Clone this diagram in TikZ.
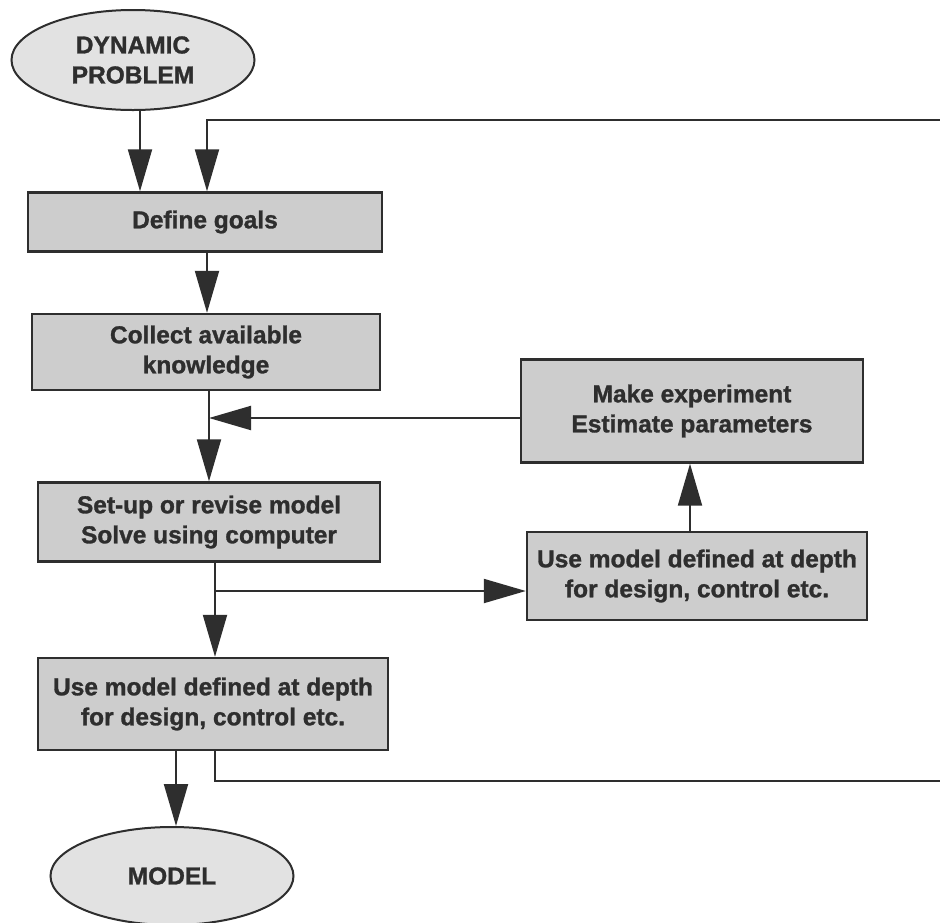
\documentclass[tikz,border=0pt]{standalone}
\usepackage{fontspec}
\setmainfont{Liberation Sans}[BoldFeatures={FakeBold=1.2}]
\usetikzlibrary{arrows.meta,shapes.geometric}
\definecolor{ink}{HTML}{2E2E2E}
\definecolor{boxfill}{HTML}{CDCDCD}
\definecolor{ellfill}{HTML}{E2E2E2}
\begin{document}
\begin{tikzpicture}[x=1pt,y=-1pt,
  lbl/.style={font=\fontsize{24.5}{30}\selectfont\bfseries, text=ink, align=center},
  stepbox/.style={lbl, draw=ink, line width=2.4pt, fill=boxfill, inner sep=0pt},
  term/.style={lbl, ellipse, draw=ink, line width=2pt, fill=ellfill, inner sep=0pt},
  conn/.style={draw=ink, line width=2pt},
  arr/.style={conn, -{Triangle[length=42pt,width=24pt]}}]
\useasboundingbox (0,0) rectangle (940,922);
\fill[white] (0,0) rectangle (940,922);
% nodes
\node[term, minimum width=243pt, minimum height=100pt] (dyn) at (133,60) {DYNAMIC\\PROBLEM};
\node[stepbox, minimum width=354pt, minimum height=59pt] (goals) at (205,222) {Define goals};
\node[stepbox, minimum width=348pt, minimum height=76pt] (collect) at (206,352) {Collect available\\knowledge};
\node[stepbox, minimum width=342pt, minimum height=79pt] (setup) at (209,522) {Set-up or revise model\\Solve using computer};
\node[stepbox, minimum width=350pt, minimum height=92pt] (use1) at (213,704) {Use model defined at depth\\for design, control etc.};
\node[term, minimum width=243pt, minimum height=98pt] (model) at (172,876) {MODEL};
\node[stepbox, minimum width=342pt, minimum height=103pt] (exp) at (692,411) {Make experiment\\Estimate parameters};
\node[stepbox, minimum width=340pt, minimum height=88pt] (use2) at (697,576) {Use model defined at depth\\for design, control etc.};
% helper coordinates
\coordinate (ax) at (140,0);
\coordinate (fa) at (207,0);
\coordinate (cx) at (209,0);
\coordinate (sx) at (215,0);
\coordinate (ux) at (690,0);
\coordinate (mx) at (176,0);
\coordinate (j1) at (209,418);
\coordinate (j2) at (215,591);
\coordinate (outT) at (941,120);
\coordinate (outB) at (941,781);
% connectors
\draw[arr] (dyn.south -| ax) -- (goals.north -| ax);
\draw[arr] (outT) -| (goals.north -| fa);
\draw[arr] (goals.south -| fa) -- (collect.north -| fa);
\draw[arr] (collect.south -| cx) -- (setup.north -| cx);
\draw[arr] (exp.west |- j1) -- (j1);
\draw[arr] (setup.south -| sx) -- (use1.north -| sx);
\draw[arr] (j2) -- (use2.west |- j2);
\draw[arr] (use2.north -| ux) -- (exp.south -| ux);
\draw[arr] (use1.south -| mx) -- (model.north -| mx);
\draw[conn] (use1.south -| sx) |- (outB);
\end{tikzpicture}
\end{document}
